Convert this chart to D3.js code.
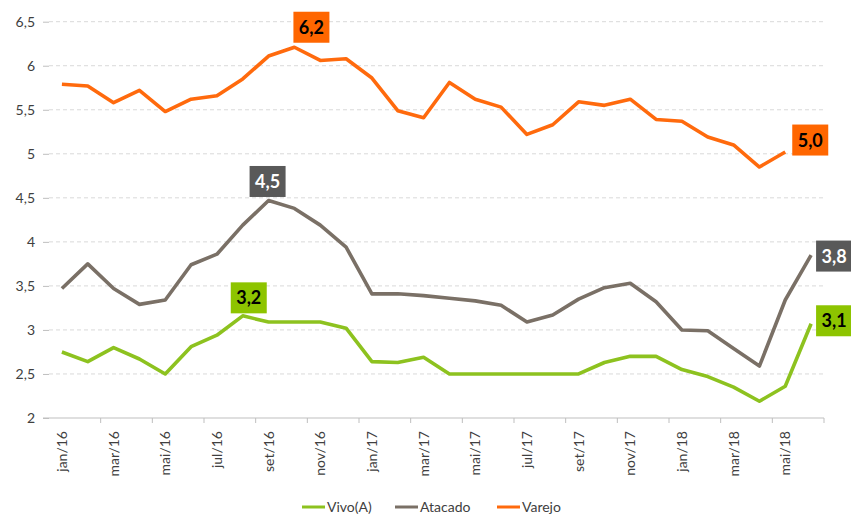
<!DOCTYPE html>
<html>
<head>
<meta charset="utf-8">
<script src="https://cdn.jsdelivr.net/npm/d3@7"></script>
<style>
  body { margin: 0; background: #fff; }
  #chart { width: 851px; height: 515px; }
  text { font-family: Lato, "Open Sans", sans-serif; }
</style>
</head>
<body>
<div id="chart"></div>
<script>
// Months jan/16 .. jun/18
let months = ["jan/16","fev/16","mar/16","abr/16","mai/16","jun/16","jul/16","ago/16","set/16","out/16","nov/16","dez/16",
              "jan/17","fev/17","mar/17","abr/17","mai/17","jun/17","jul/17","ago/17","set/17","out/17","nov/17","dez/17",
              "jan/18","fev/18","mar/18","abr/18","mai/18","jun/18"];

let vivo = [2.75, 2.64, 2.80, 2.67, 2.50, 2.81, 2.94, 3.16, 3.09, 3.09, 3.09, 3.02,
            2.64, 2.63, 2.69, 2.50, 2.50, 2.50, 2.50, 2.50, 2.50, 2.63, 2.70, 2.70,
            2.55, 2.47, 2.35, 2.19, 2.36, 3.07];
let atacado = [3.47, 3.75, 3.47, 3.29, 3.34, 3.74, 3.86, 4.19, 4.47, 4.38, 4.19, 3.94,
               3.41, 3.41, 3.39, 3.36, 3.33, 3.28, 3.09, 3.17, 3.35, 3.48, 3.53, 3.32,
               3.00, 2.99, 2.79, 2.59, 3.34, 3.85];
let varejo = [5.79, 5.77, 5.58, 5.72, 5.48, 5.62, 5.66, 5.85, 6.11, 6.21, 6.06, 6.08,
              5.86, 5.49, 5.41, 5.81, 5.62, 5.53, 5.22, 5.33, 5.59, 5.55, 5.62, 5.39,
              5.37, 5.19, 5.10, 4.85, 5.02];

let yTicks = [2, 2.5, 3, 3.5, 4, 4.5, 5, 5.5, 6, 6.5];

let series = [
    {name: "Vivo(A)", values: vivo, color: "#8DC21F"},
    {name: "Atacado", values: atacado, color: "#7A7066"},
    {name: "Varejo", values: varejo, color: "#FF6A0D"}
];

// Highlighted values: series, month index, box color, text color, offset of the box center
let callouts = [
    {s: 2, i: 9,  text: "6,2", fill: "#FF6600", color: "#000", dx: 17, dy: -20},
    {s: 2, i: 28, text: "5,0", fill: "#FF6600", color: "#000", dx: 25, dy: -12},
    {s: 1, i: 8,  text: "4,5", fill: "#595959", color: "#fff", dx: -1, dy: -19},
    {s: 1, i: 29, text: "3,8", fill: "#595959", color: "#fff", dx: 23, dy: 1},
    {s: 0, i: 7,  text: "3,2", fill: "#8DC400", color: "#000", dx: 6, dy: -18},
    {s: 0, i: 29, text: "3,1", fill: "#8DC400", color: "#000", dx: 23, dy: -3}
];

let plotLeft = 49, plotRight = 824, plotTop = 21.7, plotBottom = 418;

let svg = d3.select("#chart").append("svg")
    .attr("width", 851)
    .attr("height", 515);

let x = d3.scaleBand().domain(months).range([plotLeft, plotRight]);
let y = d3.scaleLinear().domain([2, 6.5]).range([plotBottom, plotTop]);
let cx = function(m) { return x(m) + x.bandwidth() / 2; };

// Gridlines
svg.append("g")
    .selectAll("line")
    .data(yTicks.filter(function(d) { return d > 2; }))
    .enter().append("line")
    .attr("x1", plotLeft).attr("x2", plotRight)
    .attr("y1", function(d) { return y(d); })
    .attr("y2", function(d) { return y(d); })
    .attr("stroke", "#D9D9D9")
    .attr("stroke-width", 1)
    .attr("stroke-dasharray", "4,3");

// Y axis labels and small ticks
let yAxis = svg.append("g")
    .attr("transform", "translate(" + plotLeft + ",0)")
    .call(d3.axisLeft(y).tickValues(yTicks).tickSize(6).tickPadding(8)
        .tickFormat(function(d) { return String(d).replace(".", ","); }));
yAxis.select(".domain").remove();
yAxis.selectAll("line").attr("stroke", "#BFBFBF");
yAxis.selectAll("text")
    .style("font-family", "Lato, 'Open Sans', sans-serif")
    .style("font-size", "14px")
    .attr("fill", "#404040");

// X axis
svg.append("line")
    .attr("x1", plotLeft - 6).attr("x2", plotRight)
    .attr("y1", plotBottom).attr("y2", plotBottom)
    .attr("stroke", "#BFBFBF").attr("stroke-width", 1);

svg.append("g")
    .selectAll("line")
    .data(months.filter(function(d, i) { return i % 2 === 0 && i > 0; }).concat(["end"]))
    .enter().append("line")
    .attr("x1", function(d) { return d === "end" ? plotRight : x(d); })
    .attr("x2", function(d) { return d === "end" ? plotRight : x(d); })
    .attr("y1", plotBottom).attr("y2", plotBottom + 5)
    .attr("stroke", "#BFBFBF");

svg.append("g")
    .selectAll("text")
    .data(months.filter(function(d, i) { return i % 2 === 0; }))
    .enter().append("text")
    .attr("transform", function(d) { return "translate(" + (cx(d) + 5) + "," + (plotBottom + 13) + ") rotate(-90)"; })
    .attr("text-anchor", "end")
    .style("font-size", "14px")
    .attr("fill", "#404040")
    .text(function(d) { return d; });

// Lines
let line = d3.line()
    .x(function(d, i) { return cx(months[i]); })
    .y(function(d) { return y(d); });

svg.append("g")
    .selectAll("path")
    .data(series)
    .enter().append("path")
    .attr("d", function(d) { return line(d.values); })
    .attr("fill", "none")
    .attr("stroke", function(d) { return d.color; })
    .attr("stroke-width", 3.6)
    .attr("stroke-linejoin", "round");

// Callout boxes
let boxes = svg.append("g")
    .selectAll("g")
    .data(callouts)
    .enter().append("g")
    .attr("transform", function(d) {
        let px = cx(months[d.i]) + d.dx;
        let py = y(series[d.s].values[d.i]) + d.dy;
        return "translate(" + px + "," + py + ")";
    });
boxes.append("rect")
    .attr("x", -18).attr("y", -15.5)
    .attr("width", 36).attr("height", 31)
    .attr("fill", function(d) { return d.fill; });
boxes.append("text")
    .attr("text-anchor", "middle")
    .attr("dy", "0.36em")
    .style("font-size", "18px")
    .style("font-weight", "bold")
    .attr("fill", function(d) { return d.color; })
    .text(function(d) { return d.text; });

// Legend
let legendX = [302, 395, 497];
let legend = svg.append("g")
    .selectAll("g")
    .data(series)
    .enter().append("g")
    .attr("transform", function(d, i) { return "translate(" + legendX[i] + ",507)"; });
legend.append("line")
    .attr("x1", 0).attr("x2", 23)
    .attr("stroke", function(d) { return d.color; })
    .attr("stroke-width", 3);
legend.append("text")
    .attr("x", 25)
    .attr("dy", "0.35em")
    .style("font-size", "14px")
    .attr("fill", "#404040")
    .text(function(d) { return d.name; });
</script>
</body>
</html>
